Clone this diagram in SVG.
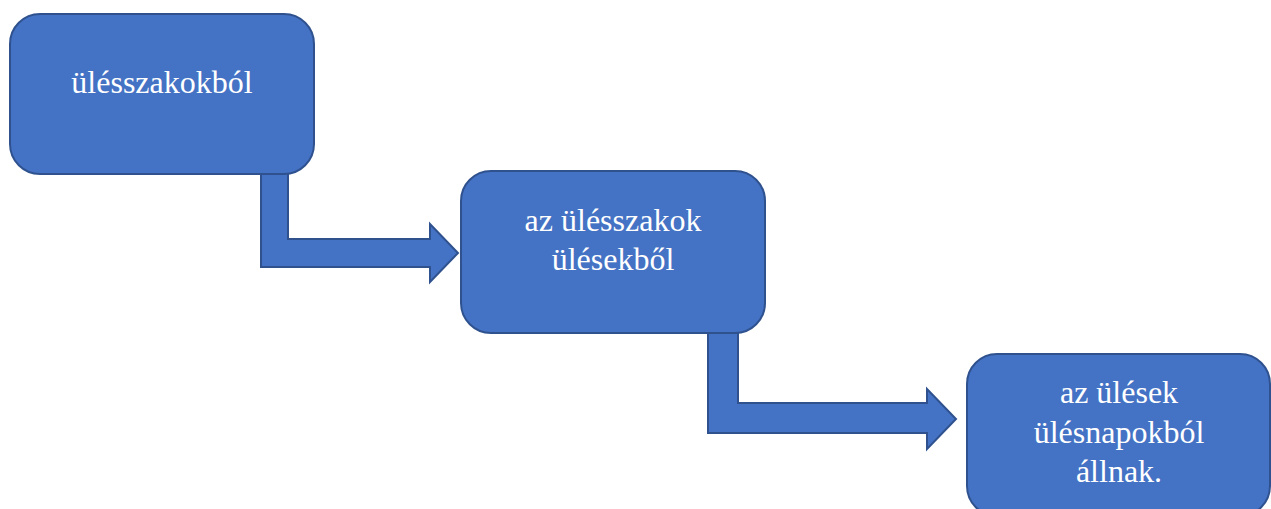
<svg xmlns="http://www.w3.org/2000/svg" width="1271" height="509" viewBox="0 0 1271 509">
<style>
.box{fill:#4472C4;stroke:#2F528F;stroke-width:2}
.arr{fill:#4472C4;stroke:#2F528F;stroke-width:2;stroke-linejoin:miter}
.t{font-family:"Liberation Serif","Times New Roman",serif;font-size:32px;fill:#FFFFFF;text-anchor:middle}
</style>
<rect width="1271" height="509" fill="#FFFFFF"/>
<g id="connectors">
<path class="arr" d="M261,173 L288,173 L288,239 L430,239 L430,224 L458,253 L430,282 L430,267 L261,267 Z"/>
<path class="arr" d="M708,333 L738,333 L738,403 L927,403 L927,389 L956,419 L927,449 L927,433 L708,433 Z"/>
</g>
<g id="node1">
<rect class="box" x="10" y="14" width="304" height="160" rx="30" ry="30"/>
<text class="t" x="162" y="93">ülésszakokból</text>
</g>
<g id="node2">
<rect class="box" x="461" y="171" width="304" height="162" rx="30" ry="30"/>
<text class="t" x="613" y="231">az ülésszakok</text>
<text class="t" x="613" y="270">ülésekből</text>
</g>
<g id="node3">
<rect class="box" x="967" y="354" width="303" height="162" rx="30" ry="30"/>
<text class="t" x="1119" y="403">az ülések</text>
<text class="t" x="1119" y="443">ülésnapokból</text>
<text class="t" x="1119" y="482">állnak.</text>
</g>
</svg>
